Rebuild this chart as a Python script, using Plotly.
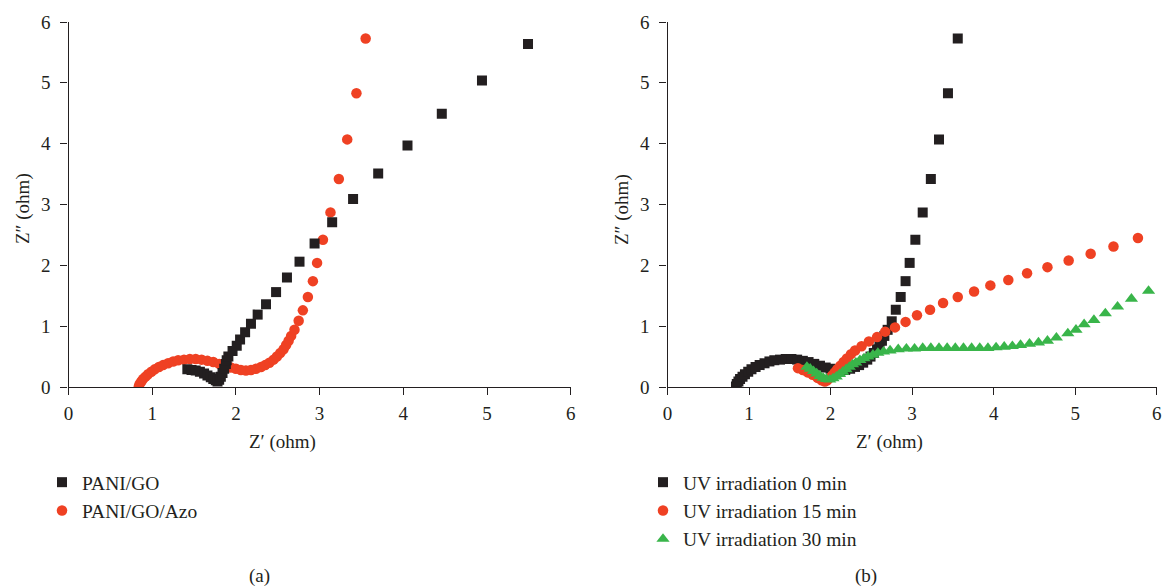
import plotly.graph_objects as go

# ---------------- data ----------------
# Panel (a)
pani_go_x = [1.42, 1.47, 1.52, 1.57, 1.62, 1.66, 1.70, 1.73, 1.76, 1.78, 1.80, 1.82, 1.84, 1.86,
             1.88, 1.89, 1.91, 1.96, 2.01, 2.05, 2.11, 2.18, 2.26, 2.36, 2.48, 2.61, 2.76, 2.94,
             3.15, 3.40, 3.70, 4.05, 4.46, 4.94, 5.49]
pani_go_y = [0.29, 0.28, 0.27, 0.25, 0.22, 0.19, 0.16, 0.13, 0.11, 0.09, 0.12, 0.17, 0.23, 0.30,
             0.38, 0.44, 0.50, 0.59, 0.68, 0.78, 0.90, 1.04, 1.19, 1.36, 1.56, 1.80, 2.06, 2.36,
             2.71, 3.09, 3.51, 3.97, 4.49, 5.04, 5.64]

azo_x = [0.84, 0.85, 0.87, 0.89, 0.92, 0.95, 0.99, 1.03, 1.08, 1.13, 1.19, 1.25, 1.31, 1.38, 1.45,
         1.52, 1.59, 1.66, 1.73, 1.80, 1.87, 1.94, 2.00, 2.06, 2.12, 2.18, 2.24, 2.30, 2.35, 2.40,
         2.45, 2.49, 2.53, 2.57, 2.60, 2.63, 2.66, 2.70, 2.75, 2.80, 2.86, 2.92, 2.97, 3.04, 3.13,
         3.23, 3.33, 3.44, 3.55]
azo_y = [0.01, 0.05, 0.09, 0.13, 0.17, 0.21, 0.25, 0.29, 0.33, 0.36, 0.39, 0.42, 0.44, 0.45, 0.46,
         0.46, 0.45, 0.43, 0.41, 0.38, 0.35, 0.32, 0.30, 0.28, 0.27, 0.28, 0.30, 0.33, 0.36, 0.40,
         0.45, 0.50, 0.56, 0.62, 0.69, 0.76, 0.84, 0.94, 1.09, 1.26, 1.48, 1.74, 2.04, 2.42, 2.87,
         3.42, 4.07, 4.83, 5.73]

# Panel (b)
uv0_x = [0.84, 0.85, 0.87, 0.89, 0.92, 0.95, 0.99, 1.03, 1.08, 1.13, 1.19, 1.25, 1.31, 1.38, 1.45,
         1.52, 1.59, 1.66, 1.73, 1.80, 1.87, 1.94, 2.00, 2.06, 2.12, 2.18, 2.24, 2.30, 2.35, 2.40,
         2.45, 2.49, 2.53, 2.57, 2.60, 2.63, 2.66, 2.70, 2.75, 2.80, 2.86, 2.92, 2.97, 3.04, 3.13,
         3.23, 3.33, 3.44, 3.56]
uv0_y = [0.01, 0.05, 0.09, 0.13, 0.17, 0.21, 0.25, 0.29, 0.33, 0.36, 0.39, 0.42, 0.44, 0.45, 0.46,
         0.46, 0.45, 0.43, 0.41, 0.38, 0.35, 0.32, 0.30, 0.28, 0.27, 0.28, 0.30, 0.33, 0.36, 0.40,
         0.45, 0.50, 0.56, 0.62, 0.69, 0.76, 0.84, 0.94, 1.08, 1.27, 1.48, 1.74, 2.04, 2.42, 2.87,
         3.42, 4.07, 4.83, 5.73]

uv15_x = [1.60, 1.66, 1.72, 1.78, 1.84, 1.89, 1.93, 1.96, 1.99, 2.02, 2.05, 2.08, 2.12, 2.16, 2.20,
          2.25, 2.30, 2.38, 2.47, 2.57, 2.67, 2.79, 2.92, 3.06, 3.22, 3.38, 3.56, 3.76, 3.96, 4.18,
          4.41, 4.66, 4.92, 5.19, 5.47, 5.77]
uv15_y = [0.31, 0.28, 0.24, 0.20, 0.15, 0.11, 0.09, 0.11, 0.15, 0.19, 0.24, 0.29, 0.35, 0.41, 0.47,
          0.54, 0.60, 0.67, 0.75, 0.82, 0.91, 0.98, 1.07, 1.18, 1.27, 1.38, 1.48, 1.57, 1.67, 1.76,
          1.87, 1.97, 2.08, 2.19, 2.31, 2.45]

uv30_x = [1.71, 1.75, 1.79, 1.83, 1.87, 1.91, 1.95, 1.99, 2.03, 2.07, 2.11, 2.15, 2.19, 2.23, 2.27,
          2.31, 2.36, 2.41, 2.46, 2.52, 2.58, 2.65, 2.73, 2.83, 2.93, 3.03, 3.13, 3.23, 3.33, 3.43,
          3.53, 3.63, 3.73, 3.83, 3.93, 4.03, 4.13, 4.23, 4.33, 4.44, 4.55, 4.66, 4.77, 4.91, 5.01,
          5.11, 5.23, 5.37, 5.52, 5.69, 5.90]
uv30_y = [0.33, 0.30, 0.26, 0.22, 0.18, 0.15, 0.13, 0.12, 0.14, 0.17, 0.21, 0.25, 0.29, 0.33, 0.37,
          0.40, 0.44, 0.47, 0.50, 0.53, 0.56, 0.58, 0.60, 0.62, 0.63, 0.63, 0.64, 0.64, 0.64, 0.64,
          0.64, 0.64, 0.64, 0.64, 0.64, 0.65, 0.66, 0.67, 0.69, 0.71, 0.73, 0.76, 0.81, 0.88, 0.94,
          1.03, 1.10, 1.21, 1.32, 1.45, 1.58]

# ---------------- style ----------------
BLACK = "#231f20"
RED = "#ef4123"
GREEN = "#39b54a"
FONT = "Liberation Serif, Times New Roman, serif"
W, H = 1170, 586


def px(x):
    return x / W


def py(y):
    return 1 - y / H


fig = go.Figure()

# Panel (a)
fig.add_trace(go.Scatter(x=azo_x, y=azo_y, mode="markers", name="PANI/GO/Azo",
                         marker=dict(symbol="circle", size=10.5, color=RED),
                         xaxis="x", yaxis="y", legend="legend", legendrank=2))
fig.add_trace(go.Scatter(x=pani_go_x, y=pani_go_y, mode="markers", name="PANI/GO",
                         marker=dict(symbol="square", size=10, color=BLACK),
                         xaxis="x", yaxis="y", legend="legend", legendrank=1))

# Panel (b)
fig.add_trace(go.Scatter(x=uv0_x, y=uv0_y, mode="markers", name="UV irradiation 0 min",
                         marker=dict(symbol="square", size=10, color=BLACK),
                         xaxis="x2", yaxis="y2", legend="legend2"))
fig.add_trace(go.Scatter(x=uv15_x, y=uv15_y, mode="markers", name="UV irradiation 15 min",
                         marker=dict(symbol="circle", size=10.5, color=RED),
                         xaxis="x2", yaxis="y2", legend="legend2"))
fig.add_trace(go.Scatter(x=uv30_x, y=uv30_y, mode="markers", name="UV irradiation 30 min",
                         marker=dict(symbol="triangle-up", size=11.5, color=GREEN),
                         xaxis="x2", yaxis="y2", legend="legend2"))

axis_common = dict(range=[0, 6], dtick=1, tick0=0, showline=True, linecolor=BLACK, linewidth=1.3,
                   ticks="outside", ticklen=7, tickwidth=1.3, tickcolor=BLACK,
                   showgrid=False, zeroline=False, automargin=False, fixedrange=True,
                   tickfont=dict(family=FONT, size=19, color=BLACK))

ydom = [py(387), py(22)]
leg_font = dict(family=FONT, size=19.5, color=BLACK)

fig.update_layout(
    width=W, height=H,
    margin=dict(l=0, r=0, t=0, b=0),
    paper_bgcolor="white", plot_bgcolor="white",
    font=dict(family=FONT, size=18, color=BLACK),
    xaxis=dict(domain=[px(68.5), px(570.7)], anchor="y", ticklabelstandoff=2, **axis_common),
    yaxis=dict(domain=ydom, anchor="x", ticklabelstandoff=6, **axis_common),
    xaxis2=dict(domain=[px(667.5), px(1156.7)], anchor="y2", ticklabelstandoff=2, **axis_common),
    yaxis2=dict(domain=ydom, anchor="x2", ticklabelstandoff=6, **axis_common),
    legend=dict(x=px(42), y=py(463), xanchor="left", yanchor="top",
                bgcolor="rgba(0,0,0,0)", font=leg_font,
                traceorder="normal", itemclick=False, itemdoubleclick=False),
    legend2=dict(x=px(643), y=py(463), xanchor="left", yanchor="top",
                 bgcolor="rgba(0,0,0,0)", font=leg_font,
                 traceorder="normal", itemclick=False, itemdoubleclick=False),
    showlegend=True,
)

ann_font = dict(family=FONT, size=19, color=BLACK)
annotations = [
    dict(text="Z\u2032 (ohm)", x=px(282), y=py(442)),
    dict(text="Z\u2032 (ohm)", x=px(889), y=py(442)),
    dict(text="Z\u2033 (ohm)", x=px(23), y=py(209), textangle=-90),
    dict(text="Z\u2033 (ohm)", x=px(622), y=py(210), textangle=-90),
    dict(text="(a)", x=px(259), y=py(576)),
    dict(text="(b)", x=px(866), y=py(576)),
]
for a in annotations:
    fig.add_annotation(xref="paper", yref="paper", xanchor="center", yanchor="middle",
                       showarrow=False, font=ann_font, **a)

fig.write_html("out.html")
